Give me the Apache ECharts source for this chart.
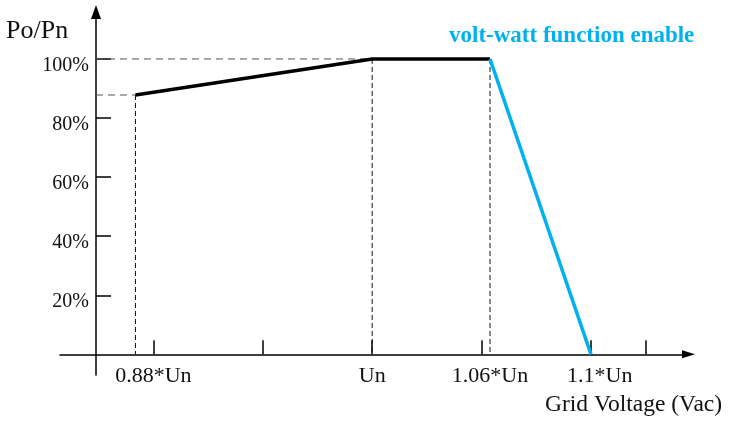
<!DOCTYPE html>
<html>
<head>
<meta charset="utf-8">
<script src="https://cdn.jsdelivr.net/npm/echarts@6/dist/echarts.min.js"></script>
<style>
  html, body { margin: 0; padding: 0; background: #fff; }
  #chart { width: 729px; height: 421px; }
</style>
</head>
<body>
<div id="chart"></div>
<script>
// Horizontal positions are schematic steps along the voltage axis (tick 3 = Un, tick 5 = 1.1*Un).
const xTicks = [1, 2, 3, 4, 5, 5.5];
const xLabelPos = [1, 3, 4.077, 5.08];
const xLabelText = ['0.88*Un', 'Un', '1.06*Un', '1.1*Un'];
const yTicks = [20, 40, 60, 80, 100];

// Output power curve (Po/Pn in %)
const normalCurve = [[0.836, 87.8], [3, 100], [4.077, 100]];
const voltWattCurve = [[4.077, 100], [5, 0]];

// Where the vertical axis crosses the horizontal one
const yAxisAt = 0.475;

// Dashed reference lines: levels drawn from the vertical axis, drops down to the voltage axis
const hGuides = [
  [[yAxisAt, 87.8], [0.836, 87.8]],
  [[yAxisAt, 100], [3, 100]]
];
const vGuides = [
  [[0.836, 87.8], [0.836, 0]],
  [[3, 100], [3, 0]],
  [[4.077, 100], [4.077, 0]]
];

const serif = 'Liberation Serif';
const chart = echarts.init(document.getElementById('chart'), null, { renderer: 'canvas' });

const guideSeries = (list, color, dash) => list.map(g => ({
  type: 'line',
  data: g,
  showSymbol: false,
  silent: true,
  z: 1,
  lineStyle: { color: color, width: 1, type: dash }
}));

chart.setOption({
  animation: false,
  backgroundColor: '#fff',
  title: [
    { text: 'Po/Pn', left: 6, top: 18, padding: 0,
      textStyle: { fontFamily: serif, fontSize: 26, fontWeight: 'normal', color: '#111' } },
    { text: 'volt-watt function enable', left: 449, top: 25, padding: 0,
      textStyle: { fontFamily: serif, fontSize: 23, fontWeight: 'bold', color: '#00B0F0' } },
    { text: 'Grid Voltage (Vac)', left: 545, top: 393, padding: 0,
      textStyle: { fontFamily: serif, fontSize: 23.5, fontWeight: 'normal', color: '#111' } }
  ],
  grid: { left: 60, right: 40.5, top: 12, bottom: 46, containLabel: false, outerBoundsMode: 'none' },
  xAxis: {
    type: 'value',
    min: 0.14625,
    max: 5.8912,
    splitLine: { show: false },
    axisLine: {
      show: true, onZero: true,
      symbol: ['none', 'triangle'], symbolSize: [8, 13],
      lineStyle: { color: '#000', width: 1.5 }
    },
    axisTick: {
      show: true, inside: true, length: 14, customValues: xTicks,
      lineStyle: { color: '#000', width: 1.5 }
    },
    axisLabel: {
      show: true, margin: -10, customValues: xLabelPos,
      fontFamily: serif, fontSize: 22, color: '#111',
      formatter: v => {
        let best = 0;
        xLabelPos.forEach((p, i) => { if (Math.abs(p - v) < Math.abs(xLabelPos[best] - v)) best = i; });
        return xLabelText[best];
      }
    }
  },
  yAxis: {
    type: 'value',
    min: -7,
    max: 115.9,
    offset: -36,
    splitLine: { show: false },
    axisLine: {
      show: true, onZero: false,
      symbol: ['none', 'triangle'], symbolSize: [10, 14],
      lineStyle: { color: '#000', width: 1.5 }
    },
    axisTick: {
      show: true, inside: true, length: 15, customValues: yTicks,
      lineStyle: { color: '#000', width: 1.5 }
    },
    axisLabel: {
      show: true, margin: 7, customValues: yTicks,
      fontFamily: serif, fontSize: 20, color: '#111',
      verticalAlign: 'top', lineHeight: 13,
      formatter: '{value}%'
    }
  },
  series: [
    ...guideSeries(hGuides, '#555', [7, 5]),
    ...guideSeries(vGuides, '#111', [5, 3]),
    {
      type: 'line',
      data: normalCurve,
      showSymbol: false,
      silent: true,
      z: 3,
      lineStyle: { color: '#000', width: 3.5 }
    },
    {
      type: 'line',
      data: voltWattCurve,
      showSymbol: false,
      silent: true,
      z: 3,
      lineStyle: { color: '#00B0F0', width: 3.5 }
    }
  ]
});
</script>
</body>
</html>
